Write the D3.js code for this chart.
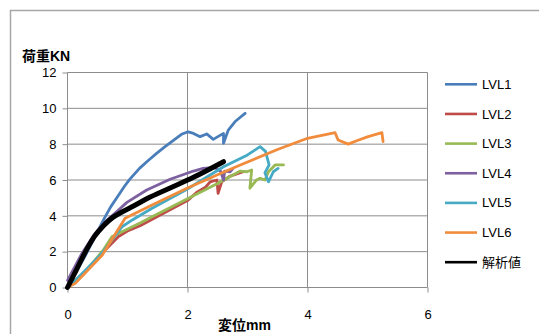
<!DOCTYPE html>
<html><head><meta charset="utf-8">
<script src="https://cdn.jsdelivr.net/npm/d3@7/dist/d3.min.js"></script>
<style>body{margin:0;background:#fff}svg{display:block}</style>
</head><body>
<script>
const seriesNames = ["LVL1","LVL2","LVL3","LVL4","LVL5","LVL6","解析値"];
const seriesColors = ["#4A7EBB","#BE4B48","#98B954","#7D60A0","#46AAC5","#F08C3C","#000000"];
const xTicks = [0,2,4,6];
const yTicks = [0,2,4,6,8,10,12];

const lvl1 = [[0,0],[0.3,1.8],[0.45,2.8],[0.62,3.9],[0.72,4.5],[0.85,5.15],[0.95,5.65],[1.04,6.05],[1.2,6.65],[1.35,7.1],[1.49,7.5],[1.62,7.85],[1.76,8.2],[1.9,8.55],[2.01,8.69],[2.1,8.6],[2.21,8.42],[2.32,8.57],[2.43,8.27],[2.52,8.45],[2.6,8.6],[2.6,8.05],[2.68,8.79],[2.79,9.25],[2.88,9.5],[2.96,9.72]];
const lvl2 = [[0,0],[0.3,0.9],[0.6,2.0],[0.85,2.85],[1.0,3.15],[1.21,3.45],[1.6,4.15],[2.0,4.85],[2.15,5.3],[2.3,5.6],[2.38,5.9],[2.49,6.0],[2.51,5.26],[2.57,5.9],[2.7,6.2],[2.93,6.46]];
const lvl3 = [[0,0],[0.3,0.9],[0.6,2.1],[0.74,2.83],[0.96,3.2],[1.21,3.6],[1.41,3.95],[2.0,4.95],[2.5,5.8],[2.88,6.5],[2.99,6.46],[3.07,6.56],[3.04,5.54],[3.15,6.0],[3.21,6.1],[3.29,6.0],[3.35,6.46],[3.46,6.84],[3.6,6.84]];
const lvl4 = [[0,0.4],[0.24,1.9],[0.46,3.02],[0.63,3.67],[0.85,4.33],[0.99,4.75],[1.32,5.44],[1.71,6.04],[2.1,6.5],[2.26,6.65],[2.45,6.7],[2.55,6.5],[2.6,6.0],[2.62,6.5],[2.71,6.46],[2.76,6.65]];
const lvl5 = [[0,0],[0.08,0.23],[0.55,1.81],[0.91,3.39],[1.08,3.77],[1.41,4.42],[2.0,5.5],[2.6,6.74],[3.0,7.4],[3.21,7.86],[3.3,7.6],[3.36,6.84],[3.29,6.4],[3.35,5.9],[3.43,6.46],[3.51,6.65]];
const lvl6 = [[0,0],[0.13,0.23],[0.58,1.81],[0.96,3.86],[1.41,4.6],[2.0,5.55],[2.54,6.35],[2.88,6.84],[3.5,7.7],[4.0,8.33],[4.46,8.64],[4.51,8.23],[4.68,8.0],[4.82,8.19],[5.01,8.42],[5.24,8.64],[5.26,8.14]];
const analysis = [[0,0],[0.15,1.0],[0.3,2.0],[0.45,2.85],[0.6,3.45],[0.75,3.9],[0.9,4.2],[1.1,4.55],[1.32,4.95],[1.71,5.55],[2.1,6.15],[2.6,7.02]];
const allSeries = [lvl1,lvl2,lvl3,lvl4,lvl5,lvl6,analysis];

const W=539,H=334;
const svg=d3.select("body").append("svg").attr("width",W).attr("height",H);
const font="'Liberation Sans','Noto Sans CJK JP',Arial,sans-serif";

svg.append("path").attr("d","M10.5,"+(H+2)+"V10.5H"+(W+2)).attr("fill","none").attr("stroke","#a6a6a6").attr("stroke-width",1.5);

const x=d3.scaleLinear().domain([0,6]).range([67.5,427.5]);
const y=d3.scaleLinear().domain([0,12]).range([287.5,72.5]);

const g=svg.append("g");
g.selectAll(".hg").data(yTicks).enter().append("line")
 .attr("x1",x(0)).attr("x2",x(6)).attr("y1",d=>y(d)).attr("y2",d=>y(d))
 .attr("stroke","#8c8c8c").attr("stroke-width",1);
g.selectAll(".vg").data(xTicks).enter().append("line")
 .attr("y1",y(12)).attr("y2",y(0)).attr("x1",d=>x(d)).attr("x2",d=>x(d))
 .attr("stroke","#8c8c8c").attr("stroke-width",1);

const yAxis=svg.append("g").attr("transform","translate("+x(0)+",0)")
 .call(d3.axisLeft(y).tickValues(yTicks).tickSize(5).tickPadding(6).tickFormat(d3.format("d")));
const xAxis=svg.append("g").attr("transform","translate(0,"+y(0)+")")
 .call(d3.axisBottom(x).tickValues(xTicks).tickSize(5).tickPadding(17).tickFormat(d3.format("d")));
[yAxis,xAxis].forEach(a=>{
  a.select(".domain").remove();
  a.selectAll("line").attr("stroke","#8c8c8c");
  a.selectAll("text").attr("font-family",font).attr("font-size","13px").attr("fill","#000");
});

const lineL=d3.line().x(d=>x(d[0])).y(d=>y(d[1]));
const lineS=d3.line().x(d=>x(d[0])).y(d=>y(d[1])).curve(d3.curveMonotoneX);
allSeries.forEach((s,i)=>{
  svg.append("path").datum(s).attr("d", i===6? lineS(s) : lineL(s))
   .attr("fill","none").attr("stroke",seriesColors[i])
   .attr("stroke-width",i===6?5:2.8).attr("stroke-linejoin","round").attr("stroke-linecap","round");
});

svg.append("text").attr("x",22).attr("y",61).text("荷重KN")
 .attr("font-family",font).attr("font-size","14px").attr("font-weight","bold");
svg.append("text").attr("x",218).attr("y",330).text("変位mm")
 .attr("font-family",font).attr("font-size","14px").attr("font-weight","bold");

const lg=svg.append("g");
seriesNames.forEach((n,i)=>{
  const yy=84.3+i*29.65;
  lg.append("line").attr("x1",445).attr("x2",477).attr("y1",yy).attr("y2",yy)
   .attr("stroke",seriesColors[i]).attr("stroke-width",2.6);
  lg.append("text").attr("x",482).attr("y",yy).attr("dy","0.35em").text(n)
   .attr("font-family",font).attr("font-size","13px").attr("fill","#000");
});
</script>
</body></html>
